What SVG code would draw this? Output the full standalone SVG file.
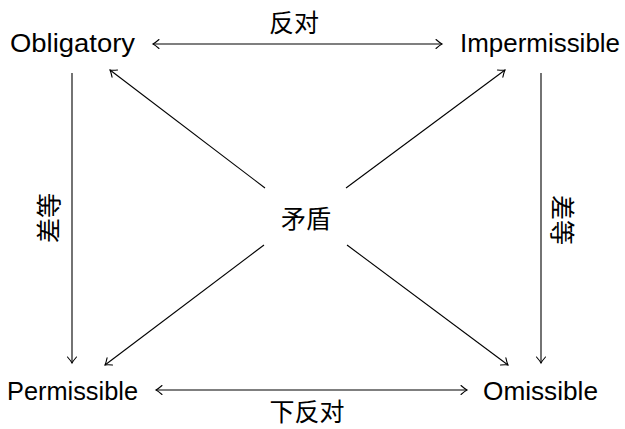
<svg xmlns="http://www.w3.org/2000/svg" width="625" height="429" viewBox="0 0 625 429">
<defs>
<style>
.n{font-family:"Liberation Sans","DejaVu Sans",sans-serif;font-size:25px;fill:#000}
.c{font-family:"Noto Sans CJK SC",sans-serif;font-size:25px;fill:#000}
.e{stroke:#000;stroke-width:1.1;fill:none}
</style>
<marker id="ah" viewBox="-8 -6 10 12" refX="0" refY="0" markerWidth="10" markerHeight="12" markerUnits="userSpaceOnUse" orient="auto-start-reverse">
<path d="M-6,-4.5 Q-2,-1 0,0 Q-2,1 -6,4.5" fill="none" stroke="#000" stroke-width="1.1" stroke-linecap="round"/>
</marker>
</defs>
<rect width="625" height="429" fill="#fff"/>
<g id="connectors">
<line class="e" x1="153" y1="44" x2="442" y2="44" marker-start="url(#ah)" marker-end="url(#ah)"/>
<line class="e" x1="156" y1="390" x2="467" y2="390" marker-start="url(#ah)" marker-end="url(#ah)"/>
<line class="e" x1="72" y1="73" x2="72" y2="363" marker-end="url(#ah)"/>
<line class="e" x1="541" y1="73" x2="541" y2="363" marker-end="url(#ah)"/>
<line class="e" x1="265" y1="188" x2="110" y2="70" marker-end="url(#ah)"/>
<line class="e" x1="346" y1="188" x2="505" y2="70" marker-end="url(#ah)"/>
<line class="e" x1="264" y1="245" x2="105" y2="365" marker-end="url(#ah)"/>
<line class="e" x1="347" y1="245" x2="508" y2="365" marker-end="url(#ah)"/>
<text class="c" x="294" y="32" text-anchor="middle">反对</text>
<text class="c" x="307" y="421" text-anchor="middle">下反对</text>
<text class="c" transform="translate(58,218) rotate(-90)" text-anchor="middle">差等</text>
<text class="c" transform="translate(553,220) rotate(90)" text-anchor="middle">差等</text>
</g>
<g id="obligatory"><text class="n" x="10" y="52" textLength="125" lengthAdjust="spacingAndGlyphs">Obligatory</text></g>
<g id="impermissible"><text class="n" x="460" y="52" textLength="160" lengthAdjust="spacingAndGlyphs">Impermissible</text></g>
<g id="permissible"><text class="n" x="7" y="400" textLength="131" lengthAdjust="spacingAndGlyphs">Permissible</text></g>
<g id="omissible"><text class="n" x="483" y="400" textLength="115" lengthAdjust="spacingAndGlyphs">Omissible</text></g>
<g id="contradiction"><text class="c" x="306" y="228" text-anchor="middle">矛盾</text></g>
</svg>
